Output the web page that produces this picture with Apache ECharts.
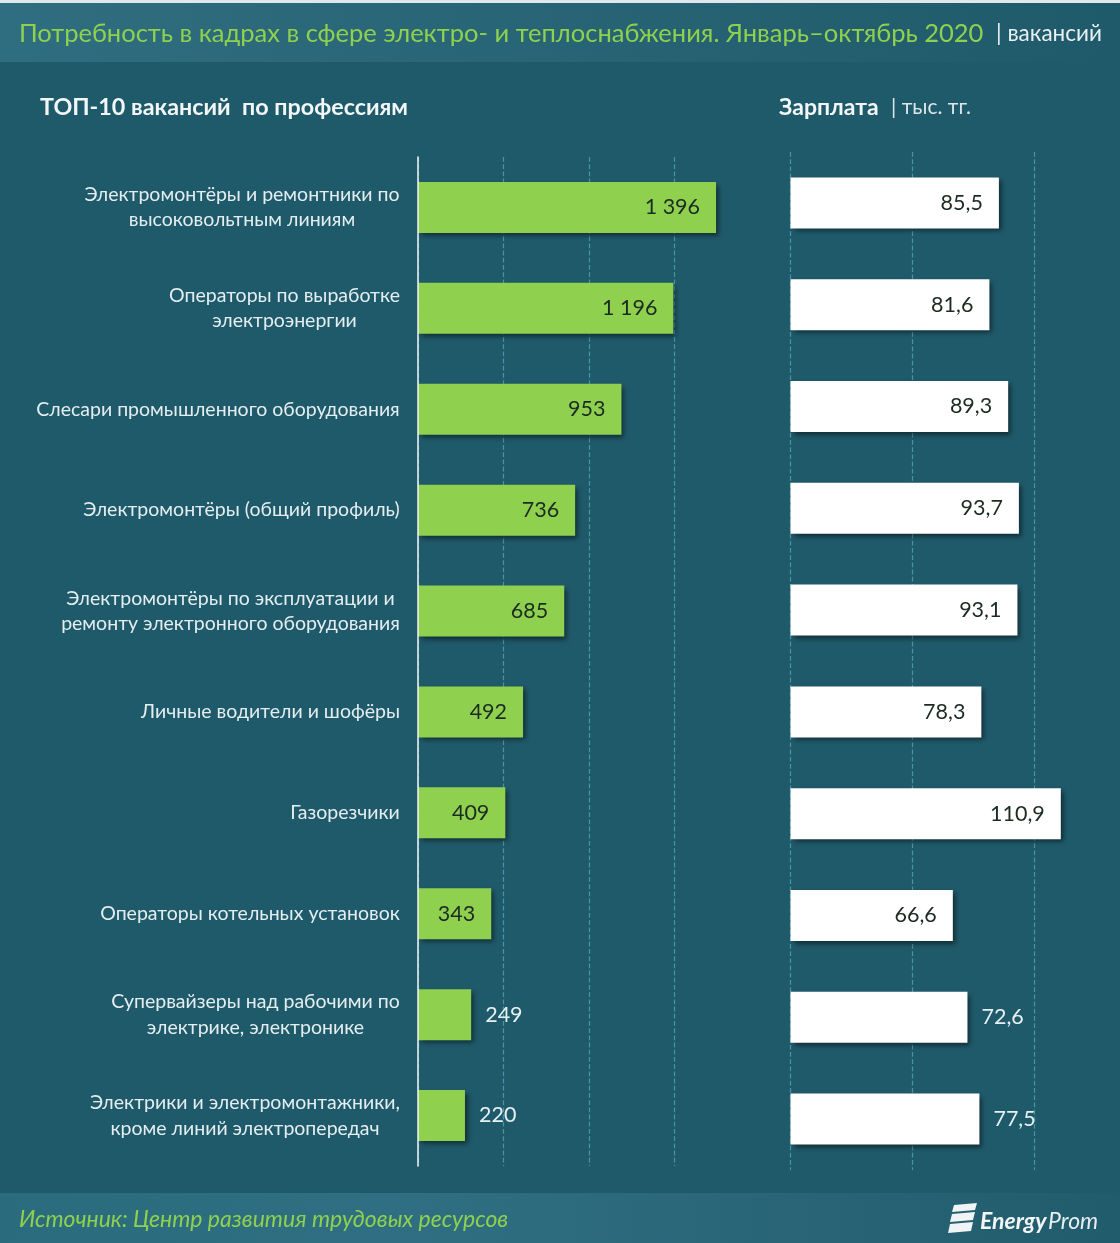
<!DOCTYPE html>
<html><head><meta charset="utf-8">
<style>html,body{margin:0;padding:0;background:#1f5a6a}#c{width:1120px;height:1243px}</style>
<script src="https://cdn.jsdelivr.net/npm/echarts@6/dist/echarts.min.js"></script></head>
<body><div id="c"></div>
<script>
const categories = [
 "Электромонтёры и ремонтники по\nвысоковольтным линиям",
 "Операторы по выработке\nэлектроэнергии",
 "Слесари промышленного оборудования",
 "Электромонтёры (общий профиль)",
 "Электромонтёры по эксплуатации и\nремонту электронного оборудования",
 "Личные водители и шофёры",
 "Газорезчики",
 "Операторы котельных установок",
 "Супервайзеры над рабочими по\nэлектрике, электронике",
 "Электрики и электромонтажники,\nкроме линий электропередач"
];
const vacancies = [1396,1196,953,736,685,492,409,343,249,220];
const salaries = [85.5,81.6,89.3,93.7,93.1,78.3,110.9,66.6,72.6,77.5];
const outsideVac = [8,9], outsideSal = [8,9];

const FONT = 'Lato, "Open Sans", sans-serif';
const chart = echarts.init(document.getElementById('c'), null, {renderer:'canvas'});
const mctx = document.createElement('canvas').getContext('2d');
mctx.font = '19.5px Lato';
const rich = {};
const labelText = categories.map((c,i)=>{
  const lines = c.split('\n');
  const w = Math.ceil(Math.max(...lines.map(l=>mctx.measureText(l).width)));
  rich['c'+i] = {width:w, align:'center', color:'#e4eef0', fontSize:19.5, fontFamily:FONT, lineHeight:25.5};
  return lines.map(l=>`{c${i}|${l}}`).join('\n');
});
const fmtVac = v => String(v).replace(/\B(?=(\d{3})+$)/g,' ');
const fmtSal = v => v.toFixed(1).replace('.',',');
function items(vals, outside, color, fmt){
  return vals.map((v,i)=>{
    const out = outside.includes(i);
    return {value:v, itemStyle:{color},
      label:{show:true, position:out?'right':'insideRight', distance:out?14:16,
        color:out?'#e6f0f2':'#1c2b22', fontSize:21.5, fontFamily:FONT, formatter:()=>fmt(v)}};
  });
}
const split = {show:true, showMaxLine:false, lineStyle:{color:'#4a95a5', type:'dashed', width:1.2}};
const shadow = {shadowColor:'rgba(0,0,0,0.5)', shadowBlur:5, shadowOffsetX:3, shadowOffsetY:3};
chart.setOption({
  animation:false,
  backgroundColor:'#1f5a6a',
  grid:[
    {left:418, width:320.25, top:157, height:1009, containLabel:false},
    {left:790.5, width:292.5, top:152, height:1018, containLabel:false}
  ],
  xAxis:[
    {gridIndex:0, type:'value', min:0, max:1500, interval:400, axisLabel:{show:false}, axisLine:{show:false}, axisTick:{show:false}, splitLine:split},
    {gridIndex:1, type:'value', min:0, max:120, interval:50, axisLabel:{show:false}, axisLine:{show:false}, axisTick:{show:false}, splitLine:split}
  ],
  yAxis:[
    {gridIndex:0, type:'category', inverse:true, data:categories, z:5,
     axisLine:{show:true, lineStyle:{color:'#f2f6f7', width:1.5}}, axisTick:{show:false},
     axisLabel:{margin:18, align:'right', interval:0, formatter:(v,i)=>labelText[i], rich}},
    {gridIndex:1, type:'category', inverse:true, data:categories, axisLine:{show:false}, axisTick:{show:false}, axisLabel:{show:false}}
  ],
  series:[
    {type:'bar', xAxisIndex:0, yAxisIndex:0, barWidth:51, data:items(vacancies, outsideVac, '#8fd14f', fmtVac), itemStyle:shadow},
    {type:'bar', xAxisIndex:1, yAxisIndex:1, barWidth:51, data:items(salaries, outsideSal, '#ffffff', fmtSal), itemStyle:shadow}
  ],
  graphic:[
    {type:'rect', z:-1, silent:true, shape:{x:0,y:0,width:1120,height:62},
     style:{fill:new echarts.graphic.LinearGradient(0,0,1,0,[{offset:0,color:'#2f6e80'},{offset:0.9,color:'#215c6c'},{offset:1,color:'#1f5a6a'}])}},
    {type:'rect', z:-1, silent:true, shape:{x:0,y:0,width:1120,height:3}, style:{fill:'#dfe9ec'}},
    {type:'rect', z:-1, silent:true, shape:{x:0,y:1193,width:1120,height:50},
     style:{fill:new echarts.graphic.LinearGradient(0,0,1,0,[{offset:0,color:'#2a6b7d'},{offset:0.35,color:'#306f83'},{offset:1,color:'#215c6c'}])}},
    {type:'text', x:19, y:21, style:{text:'Потребность в кадрах в сфере электро- и теплоснабжения. Январь–октябрь 2020', fill:'#8fd14f', font:'25.5px '+FONT}},
    {type:'text', x:996, y:22, style:{text:'| вакансий', fill:'#e8f0f2', font:'22.5px '+FONT}},
    {type:'text', x:40, y:96, style:{text:'ТОП-10 вакансий  по профессиям', fill:'#f2f6f7', font:'bold 23.3px '+FONT}},
    {type:'text', x:779, y:96, style:{text:'Зарплата', fill:'#f2f6f7', font:'bold 23px '+FONT}},
    {type:'text', x:891, y:97, style:{text:'| тыс. тг.', fill:'#dbe6e9', font:'21px '+FONT}},
    {type:'text', x:19, y:1208, style:{text:'Источник: Центр развития трудовых ресурсов', fill:'#8fd14f', font:'italic 23px '+FONT}},
    {type:'polygon', shape:{points:[[954,1205],[977,1203],[975,1210],[952,1212]]}, style:{fill:'#f0f4f5'}},
    {type:'polygon', shape:{points:[[952,1214],[975,1212],[973,1220],[950,1222]]}, style:{fill:'#f0f4f5'}},
    {type:'polygon', shape:{points:[[950,1224],[973,1222],[971,1231],[948,1233]]}, style:{fill:'#f0f4f5'}},
    {type:'text', x:980, y:1210, style:{text:'Energy', fill:'#f2f6f7', font:'italic bold 23px '+FONT}},
    {type:'text', x:1048, y:1210, style:{text:'Prom', fill:'#e6eef0', font:'italic 23px '+FONT}}
  ]
});
</script></body></html>
